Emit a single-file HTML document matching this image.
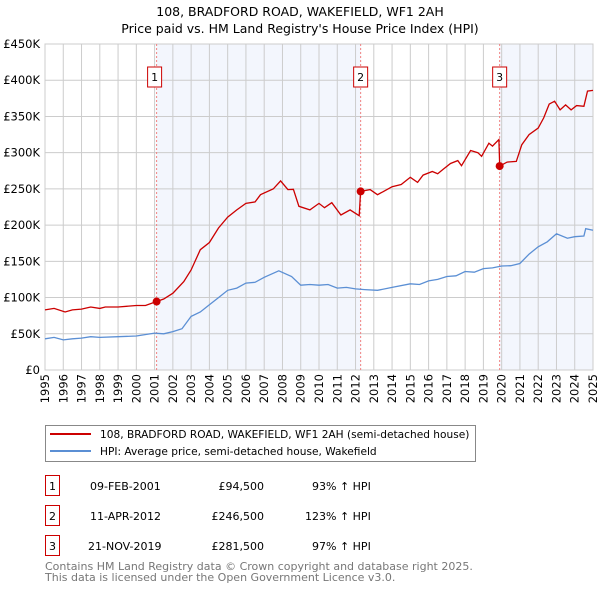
<!DOCTYPE html>
<html><head><meta charset="utf-8"><style>
body{margin:0;background:#fff;font-family:"DejaVu Sans","Liberation Sans",sans-serif;}
svg text{font-family:"DejaVu Sans","Liberation Sans",sans-serif;}
</style></head><body>
<svg id="c" width="600" height="590" xmlns="http://www.w3.org/2000/svg">
<text x="300" y="16" text-anchor="middle" font-size="12.5">108, BRADFORD ROAD, WAKEFIELD, WF1 2AH</text>
<text x="300" y="33" text-anchor="middle" font-size="12.5">Price paid vs. HM Land Registry's House Price Index (HPI)</text>
<g id="plot"></g>
<g>
<rect x="45.5" y="425.5" width="430" height="36" fill="#fff" stroke="#888"/>
<line x1="50" y1="434" x2="91" y2="434" stroke="#cc0000" stroke-width="2"/>
<text x="100" y="438" font-size="10.6">108, BRADFORD ROAD, WAKEFIELD, WF1 2AH (semi-detached house)</text>
<line x1="50" y1="451" x2="91" y2="451" stroke="#5b8fd4" stroke-width="2"/>
<text x="100" y="455" font-size="10.6">HPI: Average price, semi-detached house, Wakefield</text>
</g>
<g font-size="11">
<rect x="45.5" y="475.5" width="14" height="20" fill="none" stroke="#cc0000"/>
<text x="52.5" y="490" text-anchor="middle">1</text>
<text x="90" y="490">09-FEB-2001</text>
<text x="264" y="490" text-anchor="end">£94,500</text>
<text x="312" y="490">93% ↑ HPI</text>
<rect x="45.5" y="505.5" width="14" height="20" fill="none" stroke="#cc0000"/>
<text x="52.5" y="520" text-anchor="middle">2</text>
<text x="90" y="520">11-APR-2012</text>
<text x="264" y="520" text-anchor="end">£246,500</text>
<text x="305" y="520">123% ↑ HPI</text>
<rect x="45.5" y="535.5" width="14" height="20" fill="none" stroke="#cc0000"/>
<text x="52.5" y="550" text-anchor="middle">3</text>
<text x="88" y="550">21-NOV-2019</text>
<text x="264" y="550" text-anchor="end">£281,500</text>
<text x="312" y="550">97% ↑ HPI</text>
</g>
<text x="45" y="570" font-size="11" fill="#777">Contains HM Land Registry data © Crown copyright and database right 2025.</text>
<text x="45" y="581" font-size="11" fill="#777">This data is licensed under the Open Government Licence v3.0.</text>
</svg>
<script>
const hpiYears=[1995,1995.5,1996,1996.5,1997,1997.5,1998,1999,2000,2001,2001.5,2002,2002.5,2003,2003.5,2004,2004.5,2005,2005.5,2006,2006.5,2007,2007.8,2008.5,2009,2009.5,2010,2010.5,2011,2011.5,2012,2012.5,2013.2,2014,2015,2015.5,2016,2016.5,2017,2017.5,2018,2018.5,2019,2019.5,2020,2020.5,2021,2021.5,2022,2022.5,2023,2023.6,2024,2024.5,2024.6,2025];
const hpiValues=[43,45,41.5,43,44,46,45,46,47,51,50,53,57,74,80,90,100,110,113,120,121,128,137,129,117,118,117,118,113,114,112,111,110,114,119,118,123,125,129,130,136,135,140,141,143.5,144,147,160,170,177,188,182,184,185,195,193];
const paidYears=[1995,1995.5,1996.1,1996.5,1997,1997.5,1998,1998.3,1999,2000,2000.5,2001.11,2001.5,2002,2002.6,2003,2003.5,2004,2004.5,2005,2005.5,2006,2006.5,2006.8,2007.5,2007.9,2008.3,2008.6,2008.9,2009.5,2010,2010.3,2010.7,2011.2,2011.7,2012.2,2012.28,2012.8,2013.2,2013.5,2014,2014.5,2015,2015.4,2015.7,2016.2,2016.5,2016.8,2017.2,2017.6,2017.8,2018.3,2018.7,2018.9,2019.3,2019.5,2019.85,2019.89,2020.3,2020.8,2021.1,2021.5,2022,2022.3,2022.6,2022.9,2023.2,2023.5,2023.8,2024.1,2024.5,2024.7,2025];
const paidValues=[83,85,80,83,84,87,85,87,87,89,89,94.5,98,106,122,138,166,176,196,211,221,230,232,242,250,261,249,249.5,226,221,230,224,231,214,221,213,246.5,249,242,246,253,256,266,259,269,274,271,277,285,289,282,303,300,295,313,309,318,281.5,287,288,311,325,334,348,367,371,359,366,359,365,364,385,386];
const saleYears=[2001.11,2012.28,2019.89];
const saleValues=[94.5,246.5,281.5];
const saleLabels=["1","2","3"];
const yTicks=[0,50,100,150,200,250,300,350,400,450];
const yTickLabels=["£0","£50K","£100K","£150K","£200K","£250K","£300K","£350K","£400K","£450K"];
const xTicks=[1995,1996,1997,1998,1999,2000,2001,2002,2003,2004,2005,2006,2007,2008,2009,2010,2011,2012,2013,2014,2015,2016,2017,2018,2019,2020,2021,2022,2023,2024,2025];

const NS="http://www.w3.org/2000/svg";
const L=45,R=593,T=44,B=370,X0=1995,X1=2025,YMAX=450;
const xs=v=>L+(v-X0)/(X1-X0)*(R-L);
const ys=v=>B-v/YMAX*(B-T);
const g=document.getElementById('plot');
function mk(tag,attrs){const e=document.createElementNS(NS,tag);for(const k in attrs)e.setAttribute(k,attrs[k]);g.appendChild(e);return e;}

let s1=mk('rect',{x:xs(saleYears[0]),y:T,width:xs(saleYears[1])-xs(saleYears[0]),height:B-T,fill:'#f3f6fd'});


let s3=mk('rect',{x:xs(saleYears[2]),y:T,width:R-xs(saleYears[2]),height:B-T,fill:'#f3f6fd'});



xTicks.forEach(t=>{
 const l=mk('line',{x1:xs(t),x2:xs(t),y1:T,y2:B,stroke:'#ccc','stroke-width':1});
 
 
 const x=xs(t);
 const tx=mk('text',{x:0,y:0,'font-size':11.5,'text-anchor':'end',transform:`translate(${x+4},374) rotate(-90)`});
 tx.textContent=t;
 
 
});
yTicks.forEach((t,i)=>{
 const l=mk('line',{x1:L,x2:R,y1:ys(t),y2:ys(t),stroke:'#ccc','stroke-width':1});
 
 
 const tx=mk('text',{x:40,y:ys(t)+4,'font-size':11.5,'text-anchor':'end'});
 tx.textContent=yTickLabels[i];
 
 
});
let fr=mk('rect',{x:L,y:T,width:R-L,height:B-T,fill:'none',stroke:'#ccc'});



saleYears.forEach((y,i)=>{
 const l=mk('line',{x1:xs(y),x2:xs(y),y1:T,y2:B,stroke:'#f08080','stroke-dasharray':'2,2','stroke-width':1});
 
 
 const bx=xs(y)-(i==0?2:0);
 const r=mk('rect',{x:bx-7,y:67,width:14,height:20,fill:'#fff',stroke:'#cc0000'});
 
 
 const t=mk('text',{x:bx,y:81,'font-size':11,'text-anchor':'middle'});
 t.textContent=saleLabels[i];
 
 
});

const pts=(xa,va)=>xa.map((x,i)=>xs(x).toFixed(1)+','+ys(va[i]).toFixed(1)).join(' ');
const hl=mk('polyline',{points:pts(hpiYears,hpiValues),fill:'none',stroke:'#5b8fd4','stroke-width':1.3});


const pl=mk('polyline',{points:pts(paidYears,paidValues),fill:'none',stroke:'#cc0000','stroke-width':1.3});


saleYears.forEach((y,i)=>{
 const c=mk('circle',{cx:xs(y),cy:ys(saleValues[i]),r:4,fill:'#cc0000'});
 
 
});
</script>
</body></html>
